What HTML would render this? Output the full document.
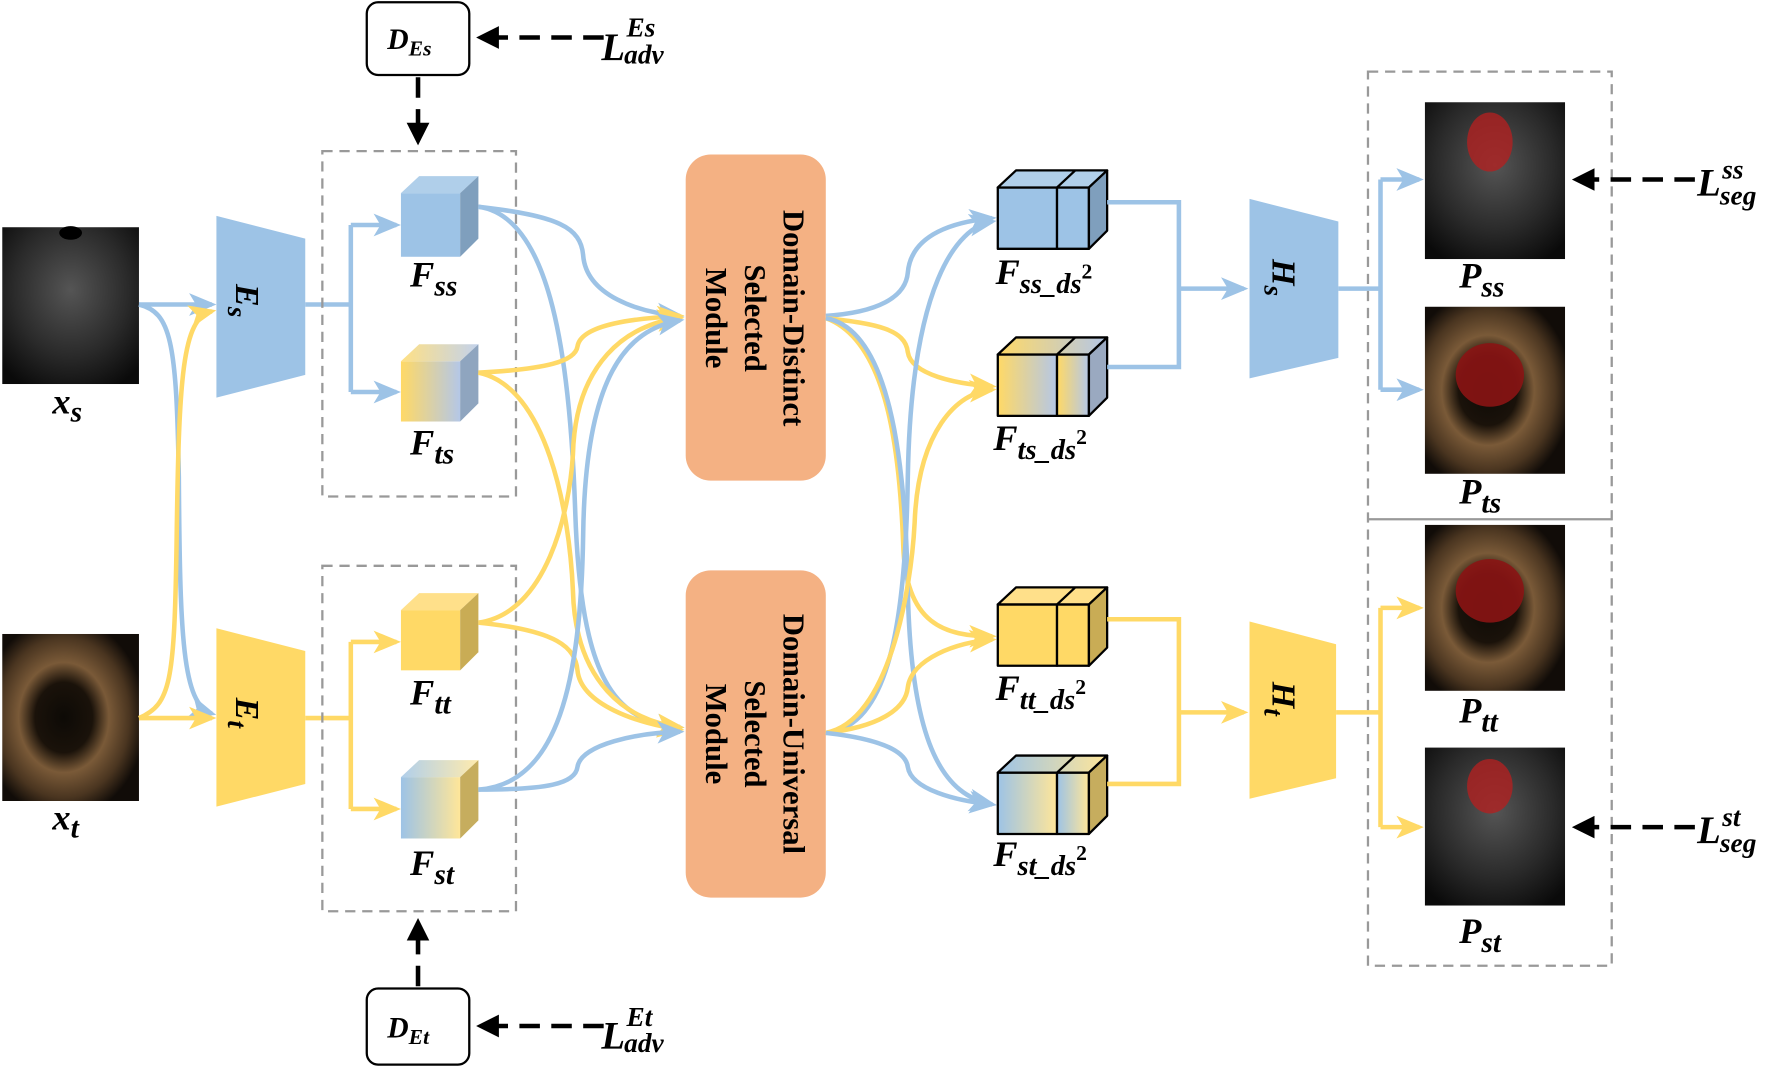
<!DOCTYPE html>
<html><head><meta charset="utf-8"><style>
html,body{margin:0;padding:0;background:#fff;}
svg{display:block;}
text{font-family:"Liberation Serif",serif;font-weight:bold;font-style:italic;fill:#000;}
.m{font-style:normal;font-size:27px;}
.n{font-style:normal;}
</style></head><body>
<svg width="1786" height="1068" viewBox="0 0 1568 940" preserveAspectRatio="none" xmlns="http://www.w3.org/2000/svg">
<defs>
<marker id="ab" markerWidth="6" markerHeight="6" refX="5" refY="3" orient="auto" markerUnits="strokeWidth"><path d="M0,0.5 L6,3 L0,5.5 L1.5,3z" fill="#9dc3e6"/></marker>
<marker id="ay" markerWidth="6" markerHeight="6" refX="5" refY="3" orient="auto" markerUnits="strokeWidth"><path d="M0,0.5 L6,3 L0,5.5 L1.5,3z" fill="#ffd966"/></marker>
<marker id="ak" markerWidth="5" markerHeight="5" refX="4" refY="2.5" orient="auto" markerUnits="strokeWidth"><path d="M0,0 L5,2.5 L0,5z" fill="#000"/></marker>
<linearGradient id="gyb" x1="0" x2="1"><stop offset="0" stop-color="#ffd966"/><stop offset="1" stop-color="#b4c7e7"/></linearGradient>
<linearGradient id="gby" x1="0" x2="1"><stop offset="0" stop-color="#9dc3e6"/><stop offset="1" stop-color="#ffe699"/></linearGradient>
<radialGradient id="us1" cx="0.5" cy="0.4" r="0.7"><stop offset="0" stop-color="#555"/><stop offset="0.6" stop-color="#2a2a2a"/><stop offset="1" stop-color="#0a0a0a"/></radialGradient>
<radialGradient id="us2" cx="0.45" cy="0.5" r="0.6"><stop offset="0" stop-color="#0d0a06"/><stop offset="0.35" stop-color="#1a120a"/><stop offset="0.55" stop-color="#7a5a38"/><stop offset="0.8" stop-color="#4a3520"/><stop offset="1" stop-color="#110c08"/></radialGradient>
</defs>

<rect x="2" y="200" width="120" height="138" fill="url(#us1)"/>
<ellipse cx="62" cy="205" rx="10" ry="6" fill="#000"/>
<rect x="2" y="558" width="120" height="147" fill="url(#us2)"/>
<text x="46" y="364" font-size="32">x<tspan font-size="26" dy="7">s</tspan></text>
<text x="46" y="730" font-size="32">x<tspan font-size="26" dy="7">t</tspan></text>

<polygon points="190,190 268,210 268,330 190,350" fill="#9dc3e6"/>
<polygon points="190,553 268,573 268,690 190,710" fill="#ffd966"/>
<text transform="translate(207,250) rotate(90)" font-size="30">E<tspan font-size="24" dy="7">s</tspan></text>
<text transform="translate(207,614) rotate(90)" font-size="30">E<tspan font-size="24" dy="7">t</tspan></text>

<g fill="none" stroke-width="4">
<path d="M122,268 L186,268" stroke="#9dc3e6" marker-end="url(#ab)"/>
<path d="M122,268 C150,275 155,300 157,420 C158,560 160,620 186,628" stroke="#9dc3e6" marker-end="url(#ab)"/>
<path d="M122,632 L186,632" stroke="#ffd966" marker-end="url(#ay)"/>
<path d="M122,632 C150,620 153,600 155,480 C157,330 160,280 186,274" stroke="#ffd966" marker-end="url(#ay)"/>
<path d="M268,268 H308 M308,198 V345" stroke="#9dc3e6"/>
<path d="M308,198 H348" stroke="#9dc3e6" marker-end="url(#ab)"/>
<path d="M308,345 H348" stroke="#9dc3e6" marker-end="url(#ab)"/>
<path d="M268,632 H308 M308,565 V712" stroke="#ffd966"/>
<path d="M308,565 H348" stroke="#ffd966" marker-end="url(#ay)"/>
<path d="M308,712 H348" stroke="#ffd966" marker-end="url(#ay)"/>
</g>

<rect x="283" y="133" width="170" height="304" fill="none" stroke="#999" stroke-width="2" stroke-dasharray="9,6"/>
<rect x="283" y="498" width="170" height="304" fill="none" stroke="#999" stroke-width="2" stroke-dasharray="9,6"/>

<g>
<rect x="352" y="170" width="52" height="56" fill="#9dc3e6"/><polygon points="352,170 368,155 420,155 404,170" fill="#b0cfea"/><polygon points="404,170 420,155 420,210 404,226" fill="#7f9fbd"/>
<rect x="352" y="318" width="52" height="53" fill="url(#gyb)"/><polygon points="352,318 368,303 420,303 404,318" fill="url(#gyb)" opacity="0.8"/><polygon points="404,318 420,303 420,355 404,371" fill="#8fa5bf"/>
<rect x="352" y="537" width="52" height="53" fill="#ffd966"/><polygon points="352,537 368,522 420,522 404,537" fill="#ffe08a"/><polygon points="404,537 420,522 420,574 404,590" fill="#c9ac55"/>
<rect x="352" y="684" width="52" height="54" fill="url(#gby)"/><polygon points="352,684 368,669 420,669 404,684" fill="url(#gby)" opacity="0.8"/><polygon points="404,684 420,669 420,722 404,738" fill="#c6ad5e"/>
</g>
<text x="360" y="252" font-size="32">F<tspan font-size="26" dy="8">ss</tspan></text>
<text x="360" y="400" font-size="32">F<tspan font-size="26" dy="8">ts</tspan></text>
<text x="360" y="620" font-size="32">F<tspan font-size="26" dy="8">tt</tspan></text>
<text x="360" y="770" font-size="32">F<tspan font-size="26" dy="8">st</tspan></text>

<rect x="602" y="136" width="123" height="287" rx="22" fill="#f4b183"/>
<rect x="602" y="502" width="123" height="288" rx="22" fill="#f4b183"/>
<text class="m" transform="translate(688,280) rotate(90)" text-anchor="middle">Domain-Distinct</text>
<text class="m" transform="translate(654,280) rotate(90)" text-anchor="middle">Selected</text>
<text class="m" transform="translate(620,280) rotate(90)" text-anchor="middle">Module</text>
<text class="m" transform="translate(688,646) rotate(90)" text-anchor="middle">Domain-Universal</text>
<text class="m" transform="translate(654,646) rotate(90)" text-anchor="middle">Selected</text>
<text class="m" transform="translate(620,646) rotate(90)" text-anchor="middle">Module</text>

<g fill="none" stroke-width="4">
<path d="M420,182 C490,190 510,200 512,225 C515,260 560,275 597,278" stroke="#9dc3e6" marker-end="url(#ab)"/>
<path d="M420,182 C480,190 500,300 505,450 C510,600 540,635 597,640" stroke="#9dc3e6" marker-end="url(#ab)"/>
<path d="M420,328 C480,325 505,318 507,305 C510,285 560,280 597,278" stroke="#ffd966" marker-end="url(#ay)"/>
<path d="M420,328 C480,340 500,450 503,520 C505,600 550,635 597,640" stroke="#ffd966" marker-end="url(#ay)"/>
<path d="M420,548 C480,540 500,450 503,400 C505,320 550,285 597,280" stroke="#ffd966" marker-end="url(#ay)"/>
<path d="M420,548 C490,555 505,570 507,590 C510,620 560,637 597,642" stroke="#ffd966" marker-end="url(#ay)"/>
<path d="M420,695 C490,690 510,600 512,470 C514,330 550,290 597,282" stroke="#9dc3e6" marker-end="url(#ab)"/>
<path d="M420,695 C480,695 505,690 507,675 C510,655 560,645 597,644" stroke="#9dc3e6" marker-end="url(#ab)"/>
</g>

<g fill="none" stroke-width="4">
<path d="M725,278 C770,275 795,262 797,240 C800,205 840,195 871,192" stroke="#9dc3e6" marker-end="url(#ab)"/>
<path d="M725,280 C770,285 795,290 797,310 C800,330 840,338 871,340" stroke="#ffd966" marker-end="url(#ay)"/>
<path d="M725,280 C780,300 790,400 793,480 C795,550 830,560 871,560" stroke="#ffd966" marker-end="url(#ay)"/>
<path d="M725,280 C780,290 795,400 797,520 C800,660 830,700 871,708" stroke="#9dc3e6" marker-end="url(#ab)"/>
<path d="M725,645 C780,640 795,550 797,420 C800,250 840,200 871,195" stroke="#9dc3e6" marker-end="url(#ab)"/>
<path d="M725,645 C780,635 800,520 803,460 C806,380 840,345 871,343" stroke="#ffd966" marker-end="url(#ay)"/>
<path d="M725,645 C770,640 795,625 797,605 C800,580 840,565 871,563" stroke="#ffd966" marker-end="url(#ay)"/>
<path d="M725,645 C770,650 795,660 797,675 C800,695 840,705 871,708" stroke="#9dc3e6" marker-end="url(#ab)"/>
</g>

<g stroke="#000" stroke-width="2" stroke-linejoin="round">
<g><rect x="876" y="165" width="52" height="54" fill="#9dc3e6"/><rect x="928" y="165" width="28" height="54" fill="#9dc3e6"/><polygon points="876,165 892,150 972,150 956,165" fill="#b0cfea"/><line x1="928" y1="165" x2="944" y2="150"/><polygon points="956,165 972,150 972,203 956,219" fill="#7f9fbd"/></g>
<g><rect x="876" y="312" width="52" height="54" fill="url(#gyb)"/><rect x="928" y="312" width="28" height="54" fill="url(#gyb)"/><polygon points="876,312 892,297 972,297 956,312" fill="url(#gyb)"/><line x1="928" y1="312" x2="944" y2="297"/><polygon points="956,312 972,297 972,350 956,366" fill="#9aa9c0"/></g>
<g><rect x="876" y="532" width="52" height="54" fill="#ffd966"/><rect x="928" y="532" width="28" height="54" fill="#ffd966"/><polygon points="876,532 892,517 972,517 956,532" fill="#ffe08a"/><line x1="928" y1="532" x2="944" y2="517"/><polygon points="956,532 972,517 972,570 956,586" fill="#c9ac55"/></g>
<g><rect x="876" y="680" width="52" height="54" fill="url(#gby)"/><rect x="928" y="680" width="28" height="54" fill="url(#gby)"/><polygon points="876,680 892,665 972,665 956,680" fill="url(#gby)"/><line x1="928" y1="680" x2="944" y2="665"/><polygon points="956,680 972,665 972,718 956,734" fill="#c6ad5e"/></g>
</g>
<text x="874" y="250" font-size="32">F<tspan font-size="25" dy="8">ss_ds</tspan><tspan class="n" font-size="19" dy="-13">2</tspan></text>
<text x="872" y="396" font-size="32">F<tspan font-size="25" dy="8">ts_ds</tspan><tspan class="n" font-size="19" dy="-13">2</tspan></text>
<text x="874" y="616" font-size="32">F<tspan font-size="25" dy="8">tt_ds</tspan><tspan class="n" font-size="19" dy="-13">2</tspan></text>
<text x="872" y="762" font-size="32">F<tspan font-size="25" dy="8">st_ds</tspan><tspan class="n" font-size="19" dy="-13">2</tspan></text>

<g fill="none" stroke-width="4">
<path d="M972,178 H1035 V323 H972" stroke="#9dc3e6"/>
<path d="M1035,254 H1092" stroke="#9dc3e6" marker-end="url(#ab)"/>
<path d="M972,545 H1035 V690 H972" stroke="#ffd966"/>
<path d="M1035,627 H1092" stroke="#ffd966" marker-end="url(#ay)"/>
</g>
<polygon points="1097,175 1175,195 1175,315 1097,333" fill="#9dc3e6"/>
<polygon points="1097,547 1173,567 1173,685 1097,703" fill="#ffd966"/>
<text transform="translate(1117,228) rotate(90)" font-size="30">H<tspan font-size="24" dy="7">s</tspan></text>
<text transform="translate(1117,600) rotate(90)" font-size="30">H<tspan font-size="24" dy="7">t</tspan></text>

<g fill="none" stroke-width="4">
<path d="M1175,254 H1212 M1212,158 V343" stroke="#9dc3e6"/>
<path d="M1212,158 H1246" stroke="#9dc3e6" marker-end="url(#ab)"/>
<path d="M1212,343 H1246" stroke="#9dc3e6" marker-end="url(#ab)"/>
<path d="M1173,627 H1212 M1212,535 V728" stroke="#ffd966"/>
<path d="M1212,535 H1246" stroke="#ffd966" marker-end="url(#ay)"/>
<path d="M1212,728 H1246" stroke="#ffd966" marker-end="url(#ay)"/>
</g>

<rect x="1201" y="63" width="214" height="787" fill="none" stroke="#999" stroke-width="2" stroke-dasharray="9,6"/>
<line x1="1201" y1="457" x2="1415" y2="457" stroke="#999" stroke-width="2"/>
<rect x="1251" y="90" width="123" height="138" fill="url(#us1)"/>
<ellipse cx="1308" cy="125" rx="20" ry="26" fill="#b02020" opacity="0.8"/>
<rect x="1251" y="270" width="123" height="147" fill="url(#us2)"/>
<ellipse cx="1308" cy="330" rx="30" ry="28" fill="#8b1414" opacity="0.9"/>
<rect x="1251" y="462" width="123" height="146" fill="url(#us2)"/>
<ellipse cx="1308" cy="520" rx="30" ry="28" fill="#8b1414" opacity="0.9"/>
<rect x="1251" y="658" width="123" height="139" fill="url(#us1)"/>
<ellipse cx="1308" cy="692" rx="20" ry="24" fill="#b02020" opacity="0.8"/>
<text x="1281" y="253" font-size="32">P<tspan font-size="26" dy="8">ss</tspan></text>
<text x="1281" y="443" font-size="32">P<tspan font-size="26" dy="8">ts</tspan></text>
<text x="1281" y="636" font-size="32">P<tspan font-size="26" dy="8">tt</tspan></text>
<text x="1281" y="830" font-size="32">P<tspan font-size="26" dy="8">st</tspan></text>

<g fill="none" stroke="#000" stroke-width="4" stroke-dasharray="18,10">
<path d="M1488,158 H1384" marker-end="url(#ak)"/>
<path d="M1488,728 H1384" marker-end="url(#ak)"/>
<path d="M530,33 H422" marker-end="url(#ak)"/>
<path d="M530,903 H422" marker-end="url(#ak)"/>
<path d="M367,68 V124" marker-end="url(#ak)"/>
<path d="M367,868 V812" marker-end="url(#ak)"/>
</g>
<text x="1490" y="172" font-size="34">L</text><text x="1512" y="157" font-size="24">ss</text><text x="1510" y="180" font-size="24">seg</text>
<text x="1490" y="742" font-size="34">L</text><text x="1512" y="727" font-size="24">st</text><text x="1510" y="750" font-size="24">seg</text>
<text x="528" y="53" font-size="34">L</text><text x="550" y="32" font-size="24">Es</text><text x="548" y="56" font-size="24">adv</text>
<text x="528" y="923" font-size="34">L</text><text x="550" y="903" font-size="24">Et</text><text x="548" y="926" font-size="24">adv</text>

<rect x="322" y="2" width="90" height="64" rx="10" fill="#fff" stroke="#000" stroke-width="2"/>
<rect x="322" y="870" width="90" height="67" rx="10" fill="#fff" stroke="#000" stroke-width="2"/>
<text x="340" y="43" font-size="26">D<tspan font-size="19" dy="6">Es</tspan></text>
<text x="340" y="913" font-size="26">D<tspan font-size="19" dy="6">Et</tspan></text>
</svg>
</body></html>
